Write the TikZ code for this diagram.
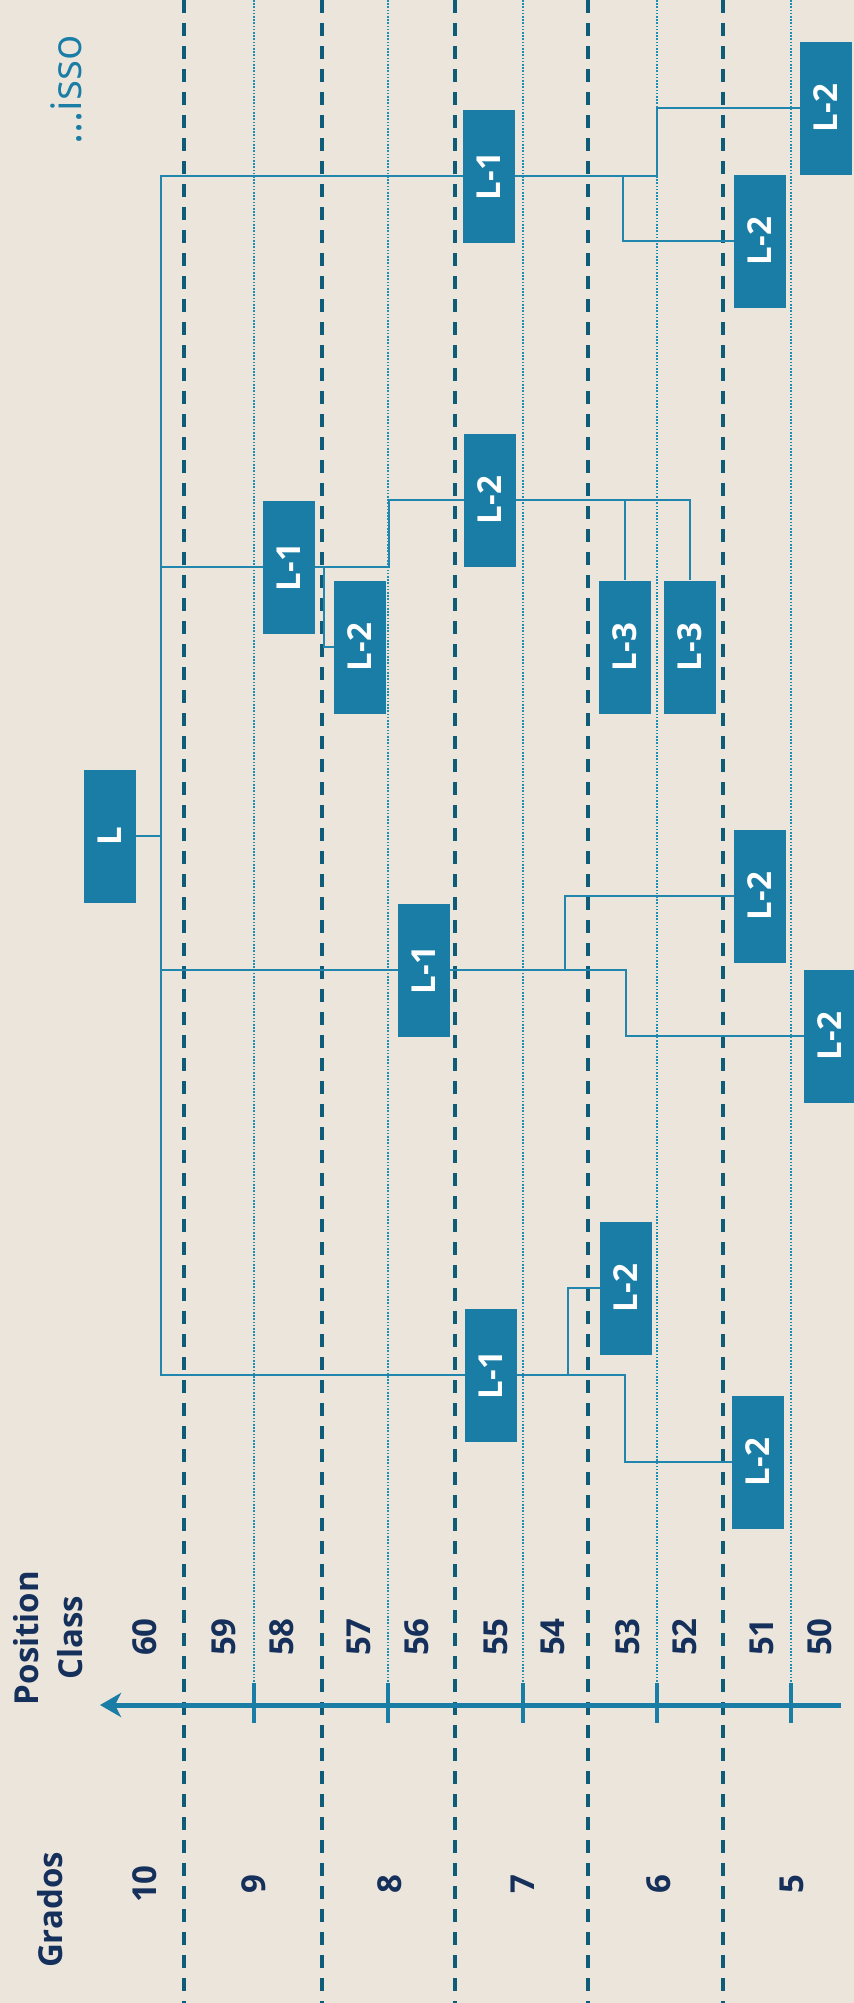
\documentclass[tikz,border=0pt]{standalone}
\usepackage{fontspec}
\setmainfont{Open Sans}
\usetikzlibrary{arrows.meta}
\definecolor{PaperBg}{HTML}{ECE5DB}
\definecolor{GradeTeal}{HTML}{1A7DA5}
\definecolor{GradeLine}{HTML}{2186AE}
\definecolor{GradeDash}{HTML}{0F5C78}
\definecolor{GradeDot}{HTML}{1F8EB3}
\definecolor{GradeNavy}{HTML}{15305B}
\tikzset{
  grade/box/.style={
    fill=GradeTeal, text=white, rotate=90,
    minimum width=133pt, minimum height=52pt, inner sep=0pt,
    font=\fontsize{33}{40}\selectfont\bfseries
  },
  grade/link/.style={draw=GradeLine, line width=1.7pt},
  grade/dash/.style={draw=GradeDash, line width=3.5pt, dash pattern=on 13pt off 10pt},
  grade/dot/.style={draw=GradeDot, line width=2.4pt, dash pattern=on 1.6pt off 1.6pt},
  grade/tick/.style={draw=GradeTeal, line width=4.5pt},
  grade/axis/.style={
    -{Stealth[length=21pt,width=24pt,inset=6pt]}, draw=GradeTeal, line width=5pt
  },
  grade/label/.style={
    text=GradeNavy, rotate=90, inner sep=0pt,
    font=\fontsize{33}{44}\selectfont\bfseries
  }
}

\begin{document}
\begin{tikzpicture}[x=1pt,y=-1pt]
  \path[fill=PaperBg,use as bounding box] (0,0) rectangle (854,2003);
  % grade borders and class borders
  \foreach \x in {184,322,455,588,723}
    \draw[grade/dash] (\x,0) -- (\x,2003);
  \foreach \x in {254,388,523,657,791}{
    \draw[grade/dot] (\x,0) -- (\x,1683);
    \draw[grade/tick] (\x,1683) -- (\x,1723);
  }
  \draw[grade/axis] (841,1705) -- (100,1705);
  % axis labels
  \node[grade/label,align=center] (pos-head) at (48,1638) {Position\\Class};
  \node[grade/label] (grado-head) at (50,1910) {Grados};
  \foreach \x/\t in {145/60,224/59,282/58,359/57,417/56,496/55,553/54,628/53,685/52,762/51,820/50}
    \node[grade/label] (class-\t) at (\x,1637) {\t};
  \foreach \x/\t in {145/10,254/9,390/8,523/7,659/6,792/5}
    \node[grade/label] (grado-\t) at (\x,1884) {\t};
  \node[text=GradeTeal,rotate=90,inner sep=0pt,font=\fontsize{42}{48}\selectfont]
    (isso) at (66,90) {...isso};
  % positions
  \node[grade/box] (L) at (110,836) {L};
  \node[grade/box] (A) at (489,176) {L-1};
  \node[grade/box] (A1) at (826,108) {L-2};
  \node[grade/box] (A2) at (760,241) {L-2};
  \node[grade/box] (B) at (289,567) {L-1};
  \node[grade/box] (B1) at (360,647) {L-2};
  \node[grade/box] (B2) at (490,500) {L-2};
  \node[grade/box] (B21) at (625,647) {L-3};
  \node[grade/box] (B22) at (690,647) {L-3};
  \node[grade/box] (C) at (424,970) {L-1};
  \node[grade/box] (C1) at (760,896) {L-2};
  \node[grade/box] (C2) at (830,1036) {L-2};
  \node[grade/box] (D) at (491,1375) {L-1};
  \node[grade/box] (D1) at (626,1288) {L-2};
  \node[grade/box] (D2) at (758,1462) {L-2};
  % links
  \coordinate (spine) at (161,800);
  \draw[grade/link] (A.north) -| (spine) |- (D.north);
  \draw[grade/link] (B.north) -- (B.north -| spine);
  \draw[grade/link] (C.north) -- (C.north -| spine);
  \draw[grade/link] (L.south) -- (L.south -| spine);
  \coordinate (a-far) at (657,176);
  \coordinate (a-near) at (623,176);
  \draw[grade/link] (A.south) -- (a-far) |- (A1.north);
  \draw[grade/link] (a-near) |- (A2.north);
  \coordinate (b-far) at (389,567);
  \coordinate (b-near) at (324,567);
  \draw[grade/link] (B.south) -- (b-far) |- (B2.north);
  \draw[grade/link] (b-near) |- (B1.north);
  \draw[grade/link] (B2.south) -| (B22.east);
  \draw[grade/link] (B2.south -| B21.east) -- (B21.east);
  \coordinate (c-far) at (626,970);
  \coordinate (c-near) at (565,970);
  \draw[grade/link] (C.south) -- (c-far) |- (C2.north);
  \draw[grade/link] (c-near) |- (C1.north);
  \coordinate (d-far) at (625,1375);
  \coordinate (d-near) at (568,1375);
  \draw[grade/link] (D.south) -- (d-far) |- (D2.north);
  \draw[grade/link] (d-near) |- (D1.north);
\end{tikzpicture}
\end{document}
